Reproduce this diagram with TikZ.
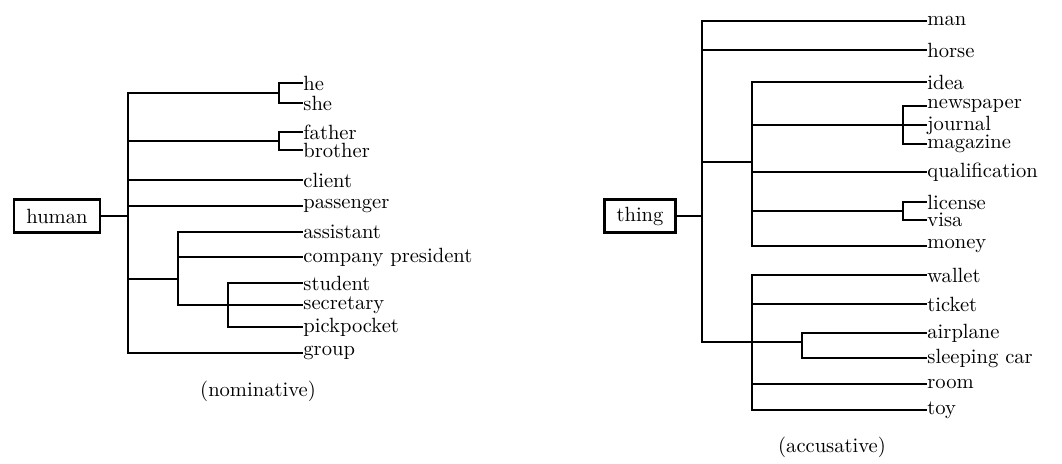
\documentclass[tikz,border=0pt]{standalone}
\usepackage{tikz}
\tikzset{
  head/.style={draw, line width=1.4pt, inner xsep=6pt, minimum height=16pt},
  leaf/.style={anchor=west, inner sep=0pt},
  edge/.style={line width=1.1pt},
}

\begin{document}
\begin{tikzpicture}[x=0.01707cm, y=-0.01707cm]
\useasboundingbox (0,0) rectangle (1062,463);

% nominative tree
\node[head] (human) at (57,216) {human};
\coordinate (h0) at (128,216);
\coordinate (hb1) at (279,93);
\coordinate (hb2) at (279,141);
\coordinate (hb3) at (178,279);
\coordinate (hb4) at (228,305);
\node[leaf] (he) at (303,83) {he};
\node[leaf] (she) at (303,103) {she};
\node[leaf] (father) at (303,132) {father};
\node[leaf] (brother) at (303,150) {brother};
\node[leaf] (client) at (303,180) {client};
\node[leaf] (passenger) at (303,206) {passenger};
\node[leaf] (assistant) at (303,232) {assistant};
\node[leaf] (president) at (303,257) {company president};
\node[leaf] (student) at (303,283) {student};
\node[leaf] (secretary) at (303,305) {secretary};
\node[leaf] (pickpocket) at (303,327) {pickpocket};
\node[leaf] (group) at (303,353) {group};
\node (nom) at (258,391) {(nominative)};

\draw[edge] (human.east) -- (h0);
\draw[edge] (h0) |- (hb1);
\draw[edge] (h0) |- (hb2);
\draw[edge] (h0) |- (client.west);
\draw[edge] (h0) |- (passenger.west);
\draw[edge] (h0) |- (hb3);
\draw[edge] (h0) |- (group.west);
\draw[edge] (hb1) |- (he.west);
\draw[edge] (hb1) |- (she.west);
\draw[edge] (hb2) |- (father.west);
\draw[edge] (hb2) |- (brother.west);
\draw[edge] (hb3) |- (assistant.west);
\draw[edge] (hb3) |- (president.west);
\draw[edge] (hb3) |- (hb4);
\draw[edge] (hb4) |- (student.west);
\draw[edge] (hb4) -- (secretary.west);
\draw[edge] (hb4) |- (pickpocket.west);

% accusative tree
\node[head] (thing) at (640,216) {thing};
\coordinate (t0) at (702,216);
\coordinate (ta) at (752,162);
\coordinate (tb) at (752,342);
\coordinate (tn) at (903,125);
\coordinate (tl) at (903,211);
\coordinate (tp) at (802,342);
\node[leaf] (man) at (927,21) {man};
\node[leaf] (horse) at (927,50) {horse};
\node[leaf] (idea) at (927,82) {idea};
\node[leaf] (newspaper) at (927,106) {newspaper};
\node[leaf] (journal) at (927,125) {journal};
\node[leaf] (magazine) at (927,144) {magazine};
\node[leaf] (qualification) at (927,172) {qualification};
\node[leaf] (license) at (927,202) {license};
\node[leaf] (visa) at (927,220) {visa};
\node[leaf] (money) at (927,246) {money};
\node[leaf] (wallet) at (927,275) {wallet};
\node[leaf] (ticket) at (927,304) {ticket};
\node[leaf] (airplane) at (927,333) {airplane};
\node[leaf] (sleeping) at (927,358) {sleeping car};
\node[leaf] (room) at (927,384) {room};
\node[leaf] (toy) at (927,410) {toy};
\node (acc) at (832,447) {(accusative)};

\draw[edge] (thing.east) -- (t0);
\draw[edge] (t0) |- (man.west);
\draw[edge] (t0) |- (horse.west);
\draw[edge] (t0) |- (ta);
\draw[edge] (t0) |- (tb);
\draw[edge] (ta) |- (idea.west);
\draw[edge] (ta) |- (tn);
\draw[edge] (ta) |- (qualification.west);
\draw[edge] (ta) |- (tl);
\draw[edge] (ta) |- (money.west);
\draw[edge] (tn) |- (newspaper.west);
\draw[edge] (tn) -- (journal.west);
\draw[edge] (tn) |- (magazine.west);
\draw[edge] (tl) |- (license.west);
\draw[edge] (tl) |- (visa.west);
\draw[edge] (tb) |- (wallet.west);
\draw[edge] (tb) |- (ticket.west);
\draw[edge] (tb) |- (tp);
\draw[edge] (tb) |- (room.west);
\draw[edge] (tb) |- (toy.west);
\draw[edge] (tp) |- (airplane.west);
\draw[edge] (tp) |- (sleeping.west);
\end{tikzpicture}
\end{document}
